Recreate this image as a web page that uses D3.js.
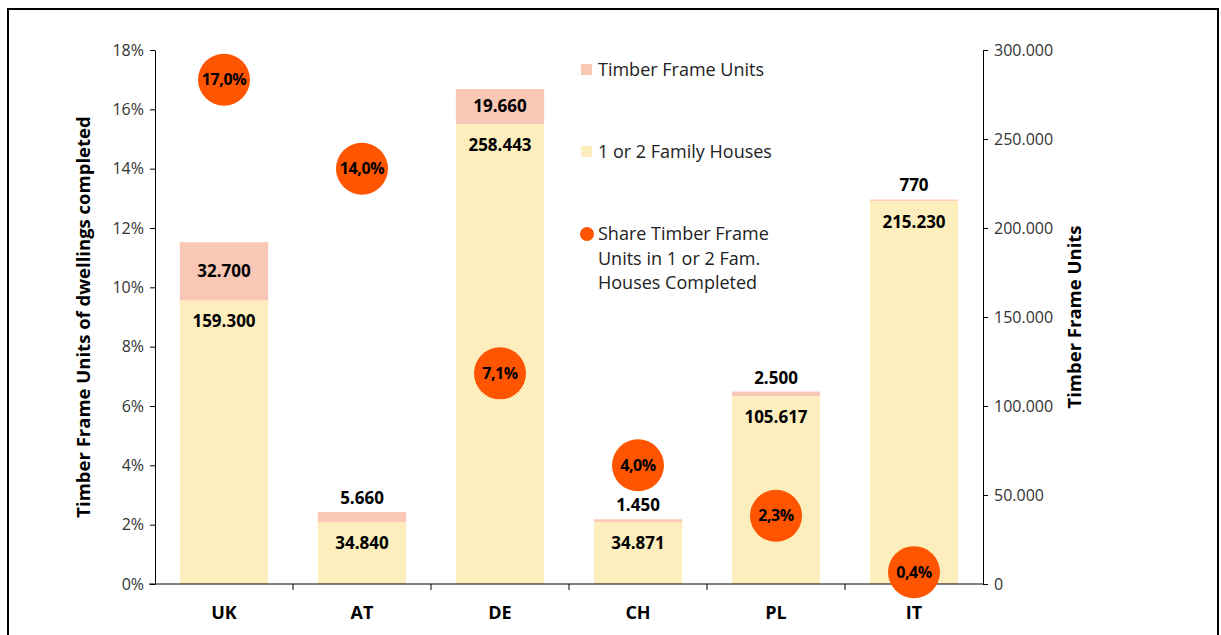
<!DOCTYPE html>
<html><head><meta charset="utf-8">
<script src="https://cdn.jsdelivr.net/npm/d3@7"></script>
<style>body{margin:0;background:#fff}text{font-family:"Open Sans",sans-serif}</style>
</head><body>
<svg id="c" width="1221" height="635"></svg>
<script>
const categories = ["UK","AT","DE","CH","PL","IT"];
const familyHouses = [159300,34840,258443,34871,105617,215230];
const timberUnits = [32700,5660,19660,1450,2500,770];
const sharePct = [17.0,14.0,7.1,4.0,2.3,0.4];
const leftTicks = [0,2,4,6,8,10,12,14,16,18];
const rightTicks = [0,50000,100000,150000,200000,250000,300000];

const svg = d3.select("#c");
const m={l:155,r:983,t:50,b:584};
const defs = svg.append("defs");
function pat(id, base, dot){
  const p=defs.append("pattern").attr("id",id).attr("width",4).attr("height",4).attr("patternUnits","userSpaceOnUse");
  p.append("rect").attr("width",4).attr("height",4).attr("fill",base);
  p.append("path").attr("d","M0,0L4,4M4,0L0,4").attr("stroke",dot).attr("stroke-width",0.6).attr("opacity",0.7);
}
pat("pFam","#fff2c6","#f8e09a");
pat("pTim","#fccdbc","#f6b29c");

svg.append("rect").attr("x",8).attr("y",9).attr("width",1210).attr("height",640).attr("fill","none").attr("stroke","#000").attr("stroke-width",2);

const x = d3.scaleBand().domain(categories).range([m.l,m.r]).paddingInner(0.36).paddingOuter(0.18);
const xb = d3.scaleBand().domain(categories).range([m.l,m.r]);
const yL = d3.scaleLinear().domain([0,18]).range([m.b,m.t]);
const yR = d3.scaleLinear().domain([0,300000]).range([m.b,m.t]);

const data = categories.map((c,i)=>({c,f:familyHouses[i],t:timberUnits[i],s:sharePct[i]}));
const fmt = v => d3.format(",")(v).replace(/,/g,".");

// bars
const g = svg.append("g");
g.selectAll(".fam").data(data).join("rect")
  .attr("x",d=>x(d.c)).attr("width",x.bandwidth())
  .attr("y",d=>yR(d.f)).attr("height",d=>yR(0)-yR(d.f)).attr("fill","url(#pFam)");
g.selectAll(".tim").data(data).join("rect")
  .attr("x",d=>x(d.c)).attr("width",x.bandwidth())
  .attr("y",d=>yR(d.f+d.t)).attr("height",d=>yR(d.f)-yR(d.f+d.t)).attr("fill","url(#pTim)");

// axes
const axL = svg.append("g").attr("transform",`translate(${m.l},0)`)
  .call(d3.axisLeft(yL).tickValues(leftTicks).tickFormat(d=>d+"%").tickSize(5).tickSizeOuter(0));
const axR = svg.append("g").attr("transform",`translate(${m.r},0)`)
  .call(d3.axisRight(yR).tickValues(rightTicks).tickFormat(d=>d===0?"0":fmt(d)).tickSize(5).tickSizeOuter(0));
const axB = svg.append("g").attr("transform",`translate(0,${m.b})`)
  .call(d3.axisBottom(xb).tickSize(0).tickSizeOuter(0));
axB.select(".domain").attr("d",`M${m.l-6},0H${m.r}`);
svg.append("g").selectAll("line").data(categories.slice(1)).join("line")
  .attr("x1",d=>xb(d)).attr("x2",d=>xb(d)).attr("y1",m.b).attr("y2",m.b+6).attr("stroke","#000");
[axL,axR].forEach(a=>{a.selectAll("text").attr("font-size",16).attr("fill","#333").style("font-family","Open Sans");a.select(".domain").attr("stroke","#000");a.selectAll(".tick line").attr("stroke","#000");});
axL.selectAll("text").attr("x",-11);
axR.selectAll("text").attr("x",11);
axB.selectAll("text").attr("font-size",18).attr("font-weight","bold").attr("fill","#000").attr("y",29).attr("dy","0.35em").style("font-family","Open Sans");
axB.select(".domain").attr("stroke","#000");

// axis titles
svg.append("text").attr("transform",`translate(90,${(m.t+m.b)/2}) rotate(-90)`).attr("text-anchor","middle")
  .attr("font-size",18.5).attr("font-weight","bold").text("Timber Frame Units of dwellings completed");
svg.append("text").attr("transform",`translate(1081,${(m.t+m.b)/2}) rotate(-90)`).attr("text-anchor","middle")
  .attr("font-size",18.5).attr("font-weight","bold").text("Timber Frame Units");

// labels
const lab = svg.append("g").attr("font-size",17).attr("font-weight","bold").attr("text-anchor","middle").attr("fill","#000");
lab.selectAll(".lf").data(data).join("text")
  .attr("x",d=>x(d.c)+x.bandwidth()/2).attr("y",d=>yR(d.f)+21).attr("dy","0.35em").text(d=>fmt(d.f));
lab.selectAll(".lt").data(data).join("text")
  .attr("x",d=>x(d.c)+x.bandwidth()/2)
  .attr("y",d=>{const h=yR(d.f)-yR(d.f+d.t); return h>25? yR(d.f+d.t)+h/2 : yR(d.f+d.t)-14;})
  .attr("dy","0.35em").text(d=>fmt(d.t));

// share circles
const sc = svg.append("g");
sc.selectAll("circle").data(data).join("circle")
  .attr("cx",d=>xb(d.c)+xb.bandwidth()/2).attr("cy",d=>yL(d.s)).attr("r",26).attr("fill","#ff5500");
sc.selectAll("text").data(data).join("text")
  .attr("x",d=>xb(d.c)+xb.bandwidth()/2).attr("y",d=>yL(d.s)).attr("dy","0.35em")
  .attr("text-anchor","middle").attr("font-size",16).attr("font-weight","bold").attr("fill","#000")
  .attr("letter-spacing",-0.4)
  .text(d=>d.s.toFixed(1).replace(".",",")+"%");

// legend
const lg = svg.append("g").attr("font-size",18).attr("fill","#222");
lg.append("rect").attr("x",581).attr("y",64).attr("width",11).attr("height",11).attr("fill","url(#pTim)");
lg.append("text").attr("x",598).attr("y",70).attr("dy","0.35em").text("Timber Frame Units");
lg.append("rect").attr("x",581).attr("y",146).attr("width",11).attr("height",11).attr("fill","url(#pFam)");
lg.append("text").attr("x",598).attr("y",152).attr("dy","0.35em").text("1 or 2 Family Houses");
lg.append("circle").attr("cx",587).attr("cy",234).attr("r",7).attr("fill","#ff5500");
["Share Timber Frame","Units in 1 or 2 Fam.","Houses Completed"].forEach((t,i)=>
  lg.append("text").attr("x",598).attr("y",234+i*24.5).attr("dy","0.35em").text(t));
</script></body></html>
